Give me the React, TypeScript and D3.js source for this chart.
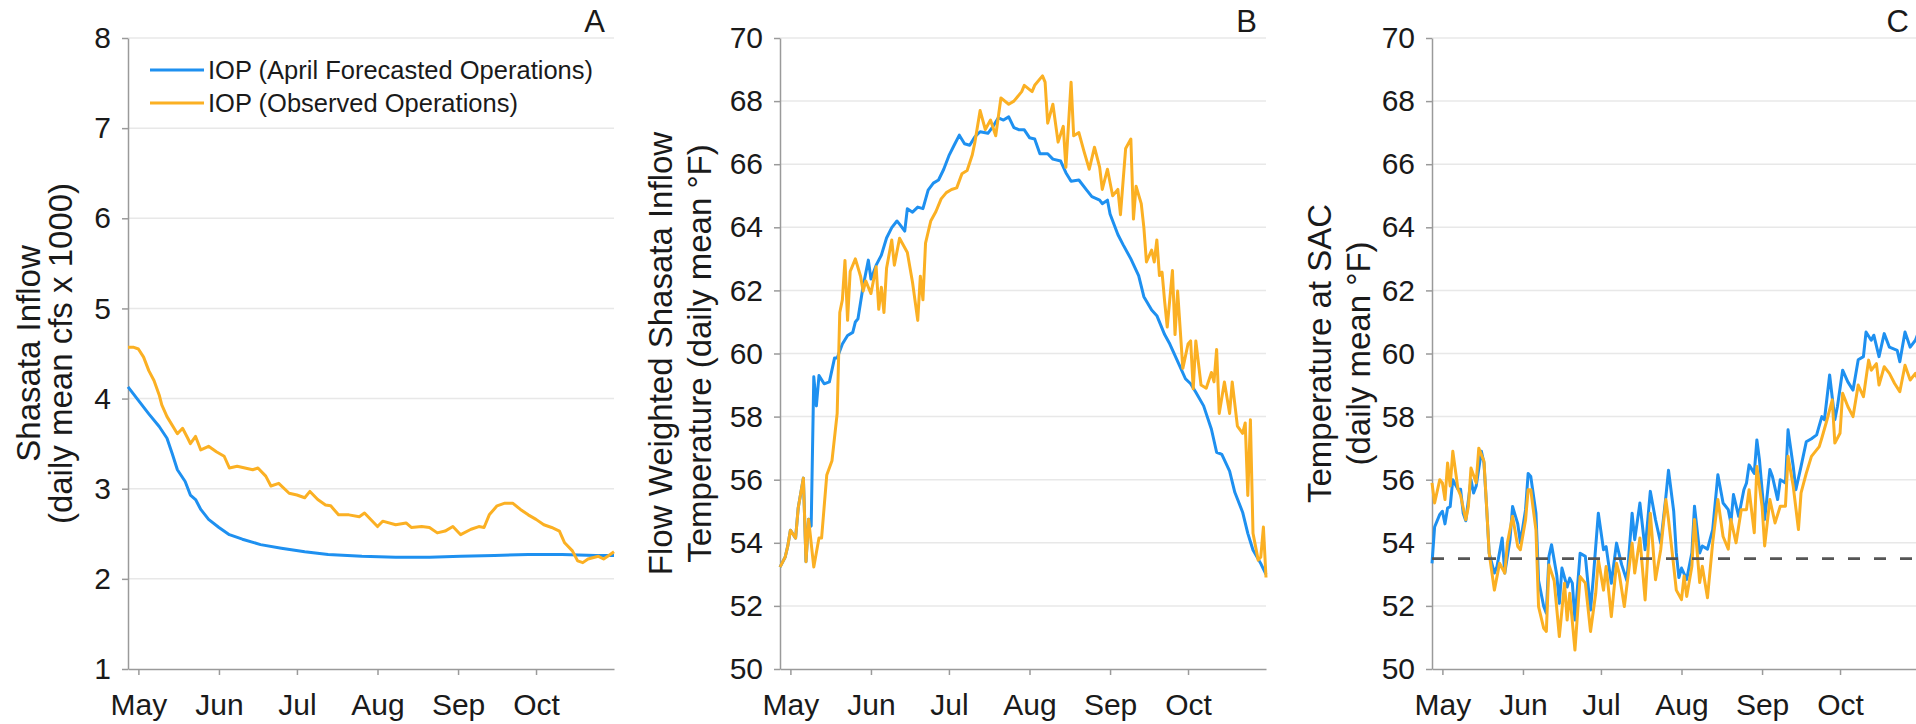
import React, { useEffect, useRef } from "react";
import * as d3 from "d3";

const seasonStart = new Date(2021, 3, 27);
const seasonEnd = new Date(2021, 9, 31);
const monthTicks = [4, 35, 65, 96, 127, 157]; // 1 May ... 1 Oct

const legendLabels = ["IOP (April Forecasted Operations)", "IOP (Observed Operations)"];
const panelLetters = ["A", "B", "C"];
const inflowTicks = [1, 2, 3, 4, 5, 6, 7, 8];
const tempTicks = [50, 52, 54, 56, 58, 60, 62, 64, 66, 68, 70];
const sacTarget = 53.5;

const inflowForecast: [number, number][] = [
	[0, 4.13], [4, 3.98], [8, 3.83], [12, 3.69], [15, 3.56], [17, 3.39], [19, 3.21], [22, 3.08],
	[24, 2.93], [26, 2.88], [28, 2.77], [31, 2.66], [35, 2.57], [39, 2.49], [44, 2.44], [51, 2.38],
	[59, 2.34], [68, 2.3], [77, 2.27], [90, 2.25], [103, 2.24], [116, 2.24], [128, 2.25], [141, 2.26],
	[154, 2.27], [167, 2.27], [180, 2.26], [187, 2.26],
];

const inflowObserved: [number, number][] = [
	[0, 4.57], [2, 4.57], [4, 4.55], [6, 4.46], [8, 4.31], [10, 4.2], [12, 4.04], [13, 3.93],
	[15, 3.8], [19, 3.61], [21, 3.67], [23, 3.56], [24, 3.5], [26, 3.58], [28, 3.43], [31, 3.47],
	[34, 3.41], [37, 3.36], [39, 3.23], [42, 3.25], [45, 3.23], [48, 3.21], [50, 3.23], [53, 3.14],
	[55, 3.03], [58, 3.06], [62, 2.95], [65, 2.93], [68, 2.9], [70, 2.97], [73, 2.88], [76, 2.82],
	[78, 2.81], [81, 2.71], [85, 2.71], [89, 2.69], [91, 2.73], [96, 2.58], [98, 2.64], [103, 2.6],
	[107, 2.62], [109, 2.57], [113, 2.58], [116, 2.57], [119, 2.51], [122, 2.53], [125, 2.58],
	[128, 2.49], [132, 2.55], [135, 2.58], [137, 2.57], [139, 2.71], [142, 2.81], [145, 2.84],
	[148, 2.84], [151, 2.77], [154, 2.71], [157, 2.66], [160, 2.6], [163, 2.57], [166, 2.53],
	[168, 2.4], [171, 2.31], [173, 2.2], [175, 2.18], [177, 2.22], [181, 2.25], [183, 2.22],
	[185, 2.26], [187, 2.3],
];

const tempForecast: [number, number][] = [
	[0, 53.23], [2, 53.55], [3, 53.9], [4, 54.4], [6, 54.15], [7, 55.1], [9, 56.05], [10, 53.4],
	[11, 54.75], [12, 54.53], [13, 59.26], [14, 58.34], [15, 59.3], [17, 59.04], [19, 59.1],
	[21, 59.86], [22, 59.86], [24, 60.3], [26, 60.57], [28, 60.67], [29, 61.0], [30, 61.1],
	[32, 62.14], [34, 62.96], [35, 62.36], [37, 62.8], [39, 63.12], [41, 63.66], [43, 63.99],
	[45, 64.2], [46, 64.1], [48, 63.88], [49, 64.59], [51, 64.48], [53, 64.64], [55, 64.59],
	[57, 65.18], [59, 65.4], [61, 65.5], [63, 65.84], [65, 66.27], [67, 66.6], [69, 66.92],
	[71, 66.65], [73, 66.6], [75, 66.87], [77, 67.03], [80, 66.98], [82, 67.2], [84, 67.47],
	[86, 67.4], [88, 67.5], [90, 67.16], [92, 67.09], [94, 67.09], [96, 66.84], [98, 66.8],
	[100, 66.33], [103, 66.33], [105, 66.16], [108, 66.1], [110, 65.73], [112, 65.46], [115, 65.5],
	[118, 65.18], [120, 64.97], [123, 64.86], [124, 64.75], [126, 64.86], [127, 64.42], [130, 63.77],
	[132, 63.45], [135, 63.0], [138, 62.47], [140, 61.8], [143, 61.38], [145, 61.2], [148, 60.6],
	[150, 60.3], [153, 59.75], [156, 59.2], [158, 59.04], [160, 58.77], [163, 58.34], [166, 57.6],
	[168, 56.87], [170, 56.8], [173, 56.27], [175, 55.6], [178, 54.97], [180, 54.3], [182, 53.77],
	[185, 53.34], [187, 53.0],
];

const tempObserved: [number, number][] = [
	[0, 53.23], [2, 53.55], [3, 53.9], [4, 54.4], [6, 54.15], [7, 55.1], [9, 56.05], [10, 53.4],
	[11, 54.75], [13, 53.23], [15, 54.15], [16, 54.15], [18, 56.15], [20, 56.6], [22, 58.1],
	[23, 61.3], [24, 61.7], [25, 62.95], [26, 61.05], [27, 62.6], [29, 63.0], [31, 62.45],
	[32, 61.98], [33, 62.3], [35, 61.9], [37, 62.75], [38, 61.4], [39, 62.1], [40, 61.3], [41, 62.7],
	[43, 63.6], [44, 62.8], [46, 63.65], [49, 63.2], [51, 62.25], [53, 61.05], [54, 62.45],
	[55, 61.7], [56, 63.5], [58, 64.2], [60, 64.5], [62, 64.9], [64, 65.1], [66, 65.2], [68, 65.25],
	[70, 65.7], [72, 65.8], [74, 66.3], [75, 66.7], [77, 67.7], [79, 67.1], [81, 67.4], [83, 66.9],
	[85, 68.1], [88, 67.9], [90, 68.0], [93, 68.3], [94, 68.5], [97, 68.3], [98, 68.5], [101, 68.8],
	[102, 68.6], [103, 67.3], [105, 67.9], [107, 66.7], [109, 67.2], [110, 65.9], [112, 68.6],
	[113, 66.9], [115, 67.0], [117, 66.4], [119, 65.84], [121, 66.54], [123, 65.9], [124, 65.2],
	[126, 65.84], [128, 65.0], [130, 65.2], [131, 64.4], [133, 66.5], [135, 66.8], [136, 64.26],
	[137, 65.3], [139, 64.75], [140, 64.0], [141, 62.9], [143, 63.28], [144, 62.9], [145, 63.6],
	[146, 62.47], [147, 62.58], [148, 61.65], [149, 60.84], [151, 62.63], [152, 60.6], [153, 61.98],
	[155, 59.53], [157, 60.3], [158, 60.4], [159, 58.88], [160, 60.4], [162, 59.0], [164, 58.9],
	[166, 59.4], [167, 59.1], [168, 60.13], [169, 58.1], [171, 59.1], [173, 58.1], [174, 59.1],
	[176, 57.7], [178, 57.47], [179, 57.8], [180, 55.5], [181, 57.9], [182, 54.3], [184, 53.45],
	[185, 53.55], [186, 54.5], [187, 52.9],
];

const sacForecast: [number, number][] = [
	[0, 53.35], [1, 54.5], [3, 54.9], [4, 55.0], [5, 54.6], [6, 55.1], [7, 55.15], [8, 56.0],
	[10, 55.7], [11, 55.7], [12, 54.94], [13, 54.7], [15, 56.0], [16, 55.58], [17, 55.8], [19, 56.9],
	[20, 56.53], [21, 55.15], [22, 53.67], [24, 53.04], [25, 53.25], [27, 54.15], [28, 53.04],
	[30, 54.1], [31, 55.15], [33, 54.6], [34, 54.0], [36, 55.05], [37, 56.2], [38, 56.1], [40, 54.94],
	[41, 52.8], [43, 51.98], [44, 51.77], [45, 53.57], [46, 53.94], [48, 52.98], [49, 52.08],
	[50, 53.2], [52, 52.6], [53, 52.88], [54, 52.72], [55, 51.55], [57, 53.67], [59, 53.57],
	[61, 51.87], [62, 52.83], [64, 54.94], [66, 53.78], [67, 53.88], [69, 52.72], [71, 53.99],
	[73, 53.3], [75, 52.8], [77, 54.94], [78, 54.1], [80, 55.26], [82, 53.78], [84, 55.63],
	[86, 54.73], [88, 53.99], [90, 55.47], [91, 56.3], [93, 55.0], [94, 53.68], [95, 52.9],
	[96, 53.2], [98, 52.84], [100, 53.68], [101, 55.16], [103, 53.68], [104, 53.9], [106, 53.8],
	[108, 54.42], [110, 56.16], [112, 55.26], [114, 55.05], [115, 54.63], [116, 55.53], [118, 54.84],
	[120, 55.68], [121, 55.89], [122, 56.47], [124, 56.2], [125, 57.26], [126, 56.63], [128, 54.74],
	[130, 56.32], [131, 56.1], [133, 55.37], [134, 56.0], [136, 55.9], [137, 57.58], [139, 56.42],
	[140, 55.68], [142, 56.42], [144, 57.2], [146, 57.3], [148, 57.42], [150, 58.0], [151, 57.9],
	[153, 59.32], [155, 57.9], [156, 58.32], [158, 59.47], [160, 59.1], [162, 58.84], [164, 59.8],
	[166, 59.9], [167, 60.68], [169, 60.42], [170, 60.58], [172, 59.9], [174, 60.63], [176, 60.2],
	[179, 60.1], [180, 59.74], [182, 60.68], [184, 60.2], [186, 60.42], [187, 60.63],
];

const sacObserved: [number, number][] = [
	[0, 55.9], [1, 55.26], [3, 56.0], [4, 55.9], [5, 55.37], [6, 56.53], [7, 55.8], [8, 56.9],
	[10, 55.7], [11, 55.5], [13, 54.73], [14, 55.15], [15, 56.37], [17, 55.9], [18, 57.0],
	[20, 56.58], [21, 55.15], [22, 53.67], [24, 52.5], [26, 53.35], [28, 53.04], [29, 53.99],
	[31, 54.84], [33, 53.88], [34, 53.78], [36, 54.73], [37, 55.68], [38, 55.68], [40, 54.4],
	[41, 51.98], [43, 51.29], [44, 51.19], [45, 53.3], [47, 52.8], [49, 51.03], [51, 52.72],
	[52, 51.55], [53, 52.4], [55, 50.6], [57, 52.93], [59, 52.72], [61, 51.19], [63, 52.4],
	[64, 53.46], [66, 52.5], [67, 53.25], [69, 51.66], [71, 53.35], [72, 53.04], [74, 51.98],
	[77, 53.99], [78, 53.04], [80, 54.15], [82, 52.19], [84, 54.94], [86, 52.83], [88, 53.78],
	[90, 55.37], [91, 54.74], [93, 53.26], [94, 52.5], [96, 52.2], [97, 52.95], [98, 52.3],
	[100, 53.26], [101, 54.74], [103, 52.74], [104, 53.26], [106, 52.26], [108, 54.0], [110, 55.37],
	[112, 54.2], [114, 53.8], [115, 54.74], [117, 54.0], [119, 55.05], [121, 55.05], [122, 55.68],
	[124, 54.32], [125, 56.42], [127, 55.16], [128, 53.9], [130, 55.37], [132, 54.63], [134, 55.16],
	[136, 55.16], [137, 56.74], [139, 55.79], [141, 54.42], [142, 55.58], [144, 56.2], [146, 56.74],
	[149, 57.05], [150, 57.32], [152, 57.9], [154, 58.53], [155, 57.16], [157, 57.47], [158, 58.74],
	[160, 58.32], [162, 58.0], [164, 59.0], [166, 58.63], [168, 59.79], [169, 59.47], [171, 59.68],
	[172, 59.0], [174, 59.58], [176, 59.37], [178, 59.05], [180, 58.79], [182, 59.63], [184, 59.16],
	[186, 59.37], [187, 59.16],
];

const seriesColors = ["#1E90F0", "#FBB023"];
const font = "'Liberation Sans', Arial, Helvetica, sans-serif";

const App = () => {
	const svgRef = useRef<SVGSVGElement>(null);

	useEffect(() => {
		const svg = d3.select(svgRef.current);
		svg.selectAll("*").remove();

		const top = 38;
		const bottom = 669;
		const panelWidth = 486;

		const panels = [
			{
				left: 128, domain: [1, 8], ticks: inflowTicks,
				series: [inflowForecast, inflowObserved],
				titles: ["Shasata Inflow", "(daily mean cfs x 1000)"], titleX: [40, 72],
			},
			{
				left: 780, domain: [50, 70], ticks: tempTicks,
				series: [tempForecast, tempObserved],
				titles: ["Flow Weighted Shasata Inflow", "Temperature (daily mean °F)"], titleX: [672, 711],
			},
			{
				left: 1432, domain: [50, 70], ticks: tempTicks,
				series: [sacForecast, sacObserved],
				titles: ["Temperature at SAC", "(daily mean °F)"], titleX: [1331, 1370],
			},
		];

		panels.forEach((p, i) => {
			const right = p.left + panelWidth;
			const g = svg.append("g").style("font-family", font);

			const x = d3.scaleTime().domain([seasonStart, seasonEnd]).range([p.left, right]);
			const y = d3.scaleLinear().domain(p.domain).range([bottom, top]);

			// horizontal grid
			g.append("g")
				.selectAll("line")
				.data(p.ticks.slice(1))
				.join("line")
				.attr("x1", p.left)
				.attr("x2", right)
				.attr("y1", (d) => y(d))
				.attr("y2", (d) => y(d))
				.attr("stroke", "#e8e8e8")
				.attr("stroke-width", 1.5);

			// y axis
			const yAxis = g
				.append("g")
				.attr("transform", `translate(${p.left},0)`)
				.call(
					d3.axisLeft(y)
						.tickValues(p.ticks)
						.tickFormat(d3.format("d") as any)
						.tickSize(6)
						.tickSizeOuter(0)
						.tickPadding(11)
				);
			yAxis.select(".domain").attr("stroke", "#9a9a9a").attr("stroke-width", 1.5);
			yAxis.selectAll(".tick line").attr("stroke", "#9a9a9a").attr("stroke-width", 1.5);
			yAxis.selectAll(".tick text").attr("fill", "#1a1a1a").style("font-size", "30px").style("font-family", font);

			// x axis
			const xAxis = g
				.append("g")
				.attr("transform", `translate(0,${bottom})`)
				.call(
					d3.axisBottom(x)
						.tickValues(monthTicks.map((d) => d3.timeDay.offset(seasonStart, d)))
						.tickFormat(d3.timeFormat("%b") as any)
						.tickSize(6)
						.tickSizeOuter(0)
						.tickPadding(19)
				);
			xAxis.select(".domain").attr("stroke", "#9a9a9a").attr("stroke-width", 1.5);
			xAxis.selectAll(".tick line").attr("stroke", "#9a9a9a").attr("stroke-width", 1.5);
			xAxis.selectAll(".tick text").attr("fill", "#1a1a1a").style("font-size", "30px").style("font-family", font);

			// axis titles
			p.titles.forEach((t, k) => {
				g.append("text")
					.attr("transform", `translate(${p.titleX[k]},${(top + bottom) / 2}) rotate(-90)`)
					.attr("text-anchor", "middle")
					.attr("fill", "#1a1a1a")
					.style("font-size", "33px")
					.text(t);
			});

			// panel letter
			g.append("text")
				.attr("x", right - 9)
				.attr("y", 32)
				.attr("text-anchor", "end")
				.attr("fill", "#1a1a1a")
				.style("font-size", "31px")
				.text(panelLetters[i]);

			const line = d3
				.line<[number, number]>()
				.x((d) => x(d3.timeDay.offset(seasonStart, d[0])))
				.y((d) => y(d[1]));

			p.series.forEach((s, k) => {
				g.append("path")
					.datum(s)
					.attr("d", line)
					.attr("fill", "none")
					.attr("stroke", seriesColors[k])
					.attr("stroke-width", 3)
					.attr("stroke-linejoin", "round");
			});

			if (i === 2) {
				g.append("line")
					.attr("x1", p.left)
					.attr("x2", right)
					.attr("y1", y(sacTarget))
					.attr("y2", y(sacTarget))
					.attr("stroke", "#555")
					.attr("stroke-width", 2.8)
					.attr("stroke-dasharray", "12,14");
			}

			if (i === 0) {
				const legend = g.append("g");
				legendLabels.forEach((label, k) => {
					const ly = 70 + k * 33;
					legend.append("line")
						.attr("x1", 150).attr("x2", 204)
						.attr("y1", ly).attr("y2", ly)
						.attr("stroke", seriesColors[k])
						.attr("stroke-width", 3);
					legend.append("text")
						.attr("x", 208)
						.attr("y", ly)
						.attr("dy", "0.35em")
						.attr("fill", "#1a1a1a")
						.style("font-size", "25.5px")
						.text(label);
				});
			}
		});
	}, []);

	return (
		<svg
			ref={svgRef}
			width={1916}
			height={724}
			style={{ position: "absolute", left: 0, top: 0, background: "#fff" }}
		></svg>
	);
};

export default App;
